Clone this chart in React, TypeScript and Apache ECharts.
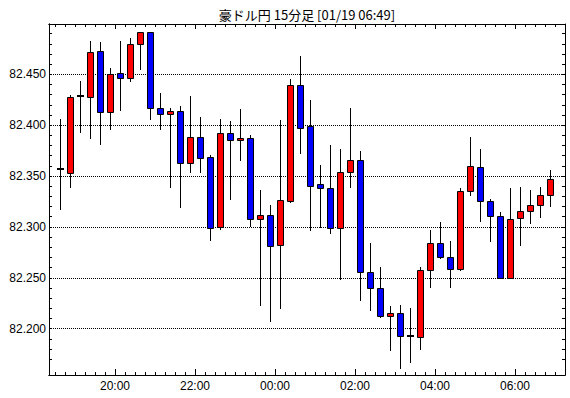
import React, { useEffect, useRef } from "react";
import * as echarts from "echarts";

const chartTitle = "豪ドル円 15分足 [01/19 06:49]";

const times = [
  "18:30", "18:45", "19:00", "19:15", "19:30", "19:45",
  "20:00", "20:15", "20:30", "20:45", "21:00", "21:15", "21:30", "21:45",
  "22:00", "22:15", "22:30", "22:45", "23:00", "23:15", "23:30", "23:45",
  "00:00", "00:15", "00:30", "00:45", "01:00", "01:15", "01:30", "01:45",
  "02:00", "02:15", "02:30", "02:45", "03:00", "03:15", "03:30", "03:45",
  "04:00", "04:15", "04:30", "04:45", "05:00", "05:15", "05:30", "05:45",
  "06:00", "06:15", "06:30", "06:45",
];

const opens = [
  82.357, 82.353, 82.429, 82.428, 82.473, 82.413, 82.451, 82.446, 82.480, 82.492,
  82.417, 82.411, 82.414, 82.363, 82.388, 82.369, 82.300, 82.392, 82.385, 82.387,
  82.308, 82.312, 82.282, 82.325, 82.440, 82.399, 82.342, 82.338, 82.299, 82.354,
  82.366, 82.256, 82.240, 82.212, 82.215, 82.193, 82.192, 82.258, 82.284, 82.270,
  82.259, 82.335, 82.359, 82.325, 82.311, 82.250, 82.309, 82.316, 82.322, 82.331,
];

const closes = [
  82.357, 82.428, 82.429, 82.472, 82.413, 82.450, 82.446, 82.480, 82.492, 82.417,
  82.411, 82.414, 82.363, 82.388, 82.368, 82.299, 82.392, 82.385, 82.387, 82.308,
  82.312, 82.281, 82.326, 82.440, 82.397, 82.340, 82.338, 82.299, 82.354, 82.366,
  82.256, 82.240, 82.212, 82.215, 82.193, 82.193, 82.258, 82.284, 82.270, 82.259,
  82.335, 82.360, 82.325, 82.311, 82.250, 82.308, 82.316, 82.322, 82.331, 82.347,
];

const lows = [
  82.317, 82.338, 82.392, 82.386, 82.381, 82.395, 82.414, 82.442, 82.454, 82.405,
  82.395, 82.338, 82.319, 82.353, 82.353, 82.286, 82.297, 82.326, 82.365, 82.300,
  82.222, 82.207, 82.219, 82.324, 82.372, 82.296, 82.299, 82.293, 82.248, 82.338,
  82.227, 82.217, 82.210, 82.178, 82.160, 82.166, 82.179, 82.240, 82.268, 82.240,
  82.257, 82.330, 82.305, 82.285, 82.249, 82.250, 82.281, 82.303, 82.309, 82.320,
];

const highs = [
  82.406, 82.430, 82.443, 82.483, 82.482, 82.456, 82.483, 82.486, 82.492, 82.492,
  82.432, 82.417, 82.419, 82.429, 82.408, 82.371, 82.406, 82.404, 82.416, 82.390,
  82.336, 82.322, 82.405, 82.445, 82.468, 82.425, 82.361, 82.381, 82.377, 82.417,
  82.375, 82.284, 82.261, 82.222, 82.223, 82.220, 82.261, 82.297, 82.305, 82.286,
  82.338, 82.388, 82.377, 82.327, 82.315, 82.338, 82.339, 82.336, 82.339, 82.356,
];

const xTickLabels = ["20:00", "22:00", "00:00", "02:00", "04:00", "06:00"];
const yTickLabels = ["82.200", "82.250", "82.300", "82.350", "82.400", "82.450"];

// x axis unit: one 15-minute slot, 0 = 20:00
const slotOf = (t: string) => {
  const [h, m] = t.split(":").map(Number);
  let rel = h * 60 + m - 20 * 60;
  if (rel < -600) rel += 1440;
  return rel / 15;
};

const X_MIN = -6.6;
const X_MAX = 45.0;
const Y_MIN = 82.1544;
const Y_MAX = 82.4995;

const FONT = "'Liberation Sans Narrow', 'Liberation Sans', Arial, sans-serif";

export default function App() {
  const ref = useRef<HTMLDivElement>(null);

  useEffect(() => {
    if (!ref.current) return;
    const chart = echarts.init(ref.current, undefined, { renderer: "svg" });

    const majorX = xTickLabels.map(slotOf);
    const minorX: number[] = [];
    for (let k = Math.ceil(X_MIN); k <= Math.floor(X_MAX - 0.5); k++) minorX.push(k);
    const yVals = yTickLabels.map(parseFloat);
    const minorY: number[] = [];
    for (let v = Math.ceil(Y_MIN * 100 + 1); v <= Math.floor(Y_MAX * 100); v++) minorY.push(v / 100);

    const data = times.map((t, i) => [slotOf(t) + 0.5, opens[i], closes[i], lows[i], highs[i]]);

    const black = { color: "#000", width: 1 };
    const baseX = (position: string, tickVals: number[], len: number, labels: boolean) => ({
      type: "value",
      gridIndex: 0,
      position,
      min: X_MIN,
      max: X_MAX,
      axisLine: { show: true, onZero: false, lineStyle: black },
      axisTick: { show: true, inside: true, length: len, customValues: tickVals, lineStyle: black },
      axisLabel: labels
        ? {
            show: true,
            customValues: majorX,
            margin: 5,
            color: "#000",
            fontSize: 12,
            fontFamily: FONT,
            formatter: (v: number) => {
              const i = majorX.findIndex((m) => Math.abs(m - v) < 1e-6);
              return i >= 0 ? xTickLabels[i] : "";
            },
          }
        : { show: false },
      splitLine: { show: false },
    });

    const baseY = (position: string, tickVals: number[] | null, labels: boolean, split: boolean) => ({
      type: "value",
      gridIndex: 0,
      position,
      min: Y_MIN,
      max: Y_MAX,
      axisLine: { show: true, onZero: false, lineStyle: black },
      axisTick: tickVals
        ? { show: true, inside: true, length: 3, customValues: tickVals, lineStyle: black }
        : { show: false },
      axisLabel: labels
        ? {
            show: true,
            customValues: yVals,
            margin: 3,
            color: "#000",
            fontSize: 12,
            fontFamily: FONT,
            formatter: (v: number) => {
              const i = yVals.findIndex((m) => Math.abs(m - v) < 1e-6);
              return i >= 0 ? yTickLabels[i] : "";
            },
          }
        : { show: false },
      splitLine: split
        ? { show: true, lineStyle: { color: "#000", width: 1, type: [1, 1] } }
        : { show: false },
    });

    chart.setOption({
      animation: false,
      backgroundColor: "#fff",
      textStyle: { fontFamily: FONT },
      grid: { left: 49, right: 5, top: 24, bottom: 23, containLabel: false, outerBoundsMode: "none" },
      graphic: [
        {
          type: "text",
          x: 307,
          y: 14,
          style: {
            text: chartTitle,
            align: "center",
            verticalAlign: "middle",
            textAlign: "center",
            textVerticalAlign: "middle",
            fill: "#000",
            font: "13px 'Noto Sans CJK JP', sans-serif",
          },
        },
      ],
      xAxis: [
        baseX("bottom", majorX, 6, true),
        baseX("bottom", minorX, 3, false),
        baseX("top", majorX, 5, false),
        baseX("top", minorX, 3, false),
      ],
      yAxis: [
        baseY("left", null, true, true),
        baseY("left", minorY, false, false),
        baseY("right", minorY, false, false),
      ],
      series: [
        {
          type: "custom",
          xAxisIndex: 0,
          yAxisIndex: 0,
          data,
          encode: { x: 0, y: [1, 2, 3, 4] },
          clip: true,
          renderItem: (params: any, api: any) => {
            const x = api.value(0);
            const o = api.value(1);
            const c = api.value(2);
            const l = api.value(3);
            const h = api.value(4);
            const po = api.coord([x, o]);
            const pc = api.coord([x, c]);
            const pl = api.coord([x, l]);
            const ph = api.coord([x, h]);
            const cx = Math.floor(po[0]) + 0.5;
            const yTop = Math.round(Math.min(po[1], pc[1])) + 0.5;
            const yBot = Math.round(Math.max(po[1], pc[1])) + 0.5;
            const children: any[] = [
              {
                type: "line",
                shape: { x1: cx, y1: Math.round(ph[1]), x2: cx, y2: Math.round(pl[1]) },
                style: { stroke: "#000", lineWidth: 1 },
              },
            ];
            if (Math.abs(c - o) < 1e-9) {
              children.push({
                type: "rect",
                shape: { x: cx - 3.5, y: Math.round(po[1]) - 1, width: 7, height: 2 },
                style: { fill: "#000" },
              });
            } else {
              children.push({
                type: "rect",
                shape: { x: cx - 3, y: yTop, width: 6, height: Math.max(1, yBot - yTop) },
                style: { fill: c > o ? "#ff0000" : "#0000ff", stroke: "#000", lineWidth: 1 },
              });
            }
            return { type: "group", children };
          },
        },
      ],
    });

    return () => chart.dispose();
  }, []);

  return (
    <div
      ref={ref}
      style={{ position: "fixed", left: 0, top: 0, width: 570, height: 398, background: "#fff" }}
    />
  );
}
